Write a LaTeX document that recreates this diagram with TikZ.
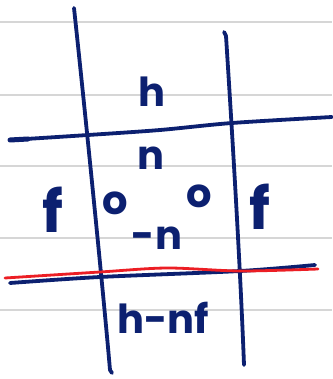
\documentclass[tikz,border=0pt]{standalone}
\usepackage{fontspec}
\setmainfont{Poppins}
\definecolor{ink}{RGB}{12,32,112}
\definecolor{rule}{RGB}{214,214,214}
\definecolor{redline}{RGB}{236,30,36}
\tikzset{
  ruled/.style={draw=rule, line width=1.6pt},
  pen/.style={draw=ink, line width=3.8pt, line cap=round, line join=round},
  redpen/.style={draw=redline, line width=2.8pt, line cap=round, line join=round},
  hand/.style={text=ink, font=\bfseries\fontsize{40}{40}\selectfont, inner sep=0pt},
  handbig/.style={text=ink, font=\fontsize{58}{58}\selectfont, inner sep=0pt}
}
\begin{document}
\begin{tikzpicture}[x=1pt,y=-1pt]
\useasboundingbox (0,0) rectangle (332,379);
\fill[white] (0,0) rectangle (332,379);
% ruled paper lines
\foreach \yy in {22,95,166,238,310}{
  \draw[ruled] (0,\yy) -- (332,\yy);
}
% verticals
\draw[pen] (74,8) .. controls (86,120) and (104,300) .. (110,370) -- (112,373);
\draw[pen] (224,32) -- (226,36) .. controls (232,130) and (240,260) .. (244,365);
% upper horizontal
\draw[pen] plot[smooth] coordinates {(10,140) (88,135) (160,130) (232,123) (332,117)};
\draw[pen, line width=5pt] (10,140) -- (28,139);
% lower blue line
\draw[pen] plot[smooth] coordinates {(10,283) (100,277) (240,271) (315,265)};
% red line
\draw[redpen] plot[smooth] coordinates {(5,278) (100,272) (167,268) (240,271) (318,269)};
% labels
\node[hand] (h) at (152,92) {h};
\node[hand] (n) at (151,158) {n};
\node[handbig] (fl) at (53,210) {\bfseries f};
\node[hand] (o1) at (115,203) {o};
\node[hand] (o2) at (199,196) {o};
\node[hand] (mn) at (157,238) {-n};
\node[handbig] (fr) at (260,207) {\bfseries f};
\node[hand] (hnf) at (163,318) {h-nf};
\end{tikzpicture}
\end{document}
